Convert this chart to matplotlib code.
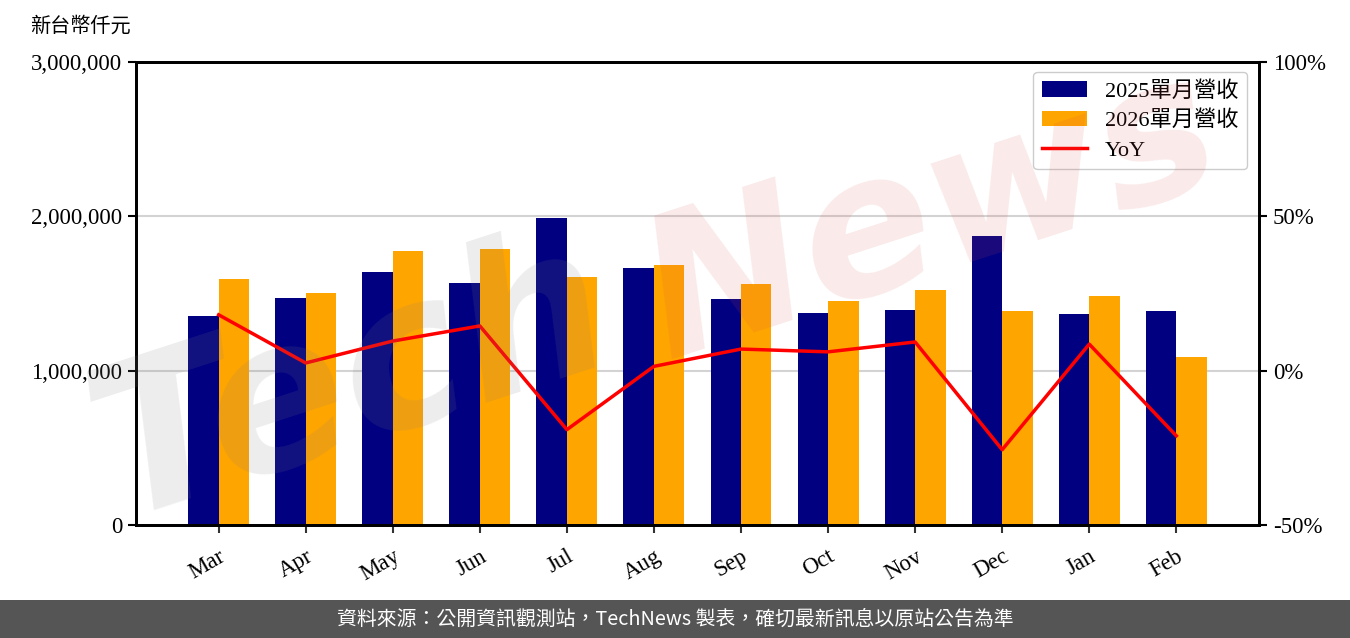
import matplotlib
matplotlib.use("Agg")
import matplotlib.pyplot as plt
import numpy as np
from matplotlib.ticker import FuncFormatter, FixedLocator
from matplotlib.patches import Rectangle

months = ["Mar", "Apr", "May", "Jun", "Jul", "Aug", "Sep", "Oct", "Nov", "Dec", "Jan", "Feb"]
rev_2025 = [1354000, 1471000, 1639000, 1568000, 1989000, 1665000,
            1464000, 1374000, 1393000, 1873000, 1367000, 1387000]
rev_2026 = [1594000, 1503000, 1775000, 1788000, 1607000, 1685000,
            1562000, 1451000, 1523000, 1387000, 1484000, 1089000]
yoy = [18.1, 2.5, 9.6, 14.5, -19.1, 1.4, 7.0, 6.1, 9.3, -25.6, 8.6, -21.1]

label_2025 = "2025單月營收"
label_2026 = "2026單月營收"
label_yoy = "YoY"
unit_label = "新台幣仟元"
footer = "資料來源：公開資訊觀測站，TechNews 製表，確切最新訊息以原站公告為準"

SERIF = ["Liberation Serif", "Noto Sans CJK TC"]
SANS = ["Noto Sans CJK TC", "DejaVu Sans"]

fig = plt.figure(figsize=(13.5, 6.38), dpi=100)
ax = fig.add_axes([0.1007, 0.1771, 0.8319, 0.7257])
ax2 = ax.twinx()

x = np.arange(len(months))
w = 0.35
b1 = ax.bar(x - w / 2, rev_2025, width=w, color="#000080", label=label_2025, zorder=2)
b2 = ax.bar(x + w / 2, rev_2026, width=w, color="#FFA500", label=label_2026, zorder=2)
ln, = ax2.plot(x, yoy, color="#FF0000", lw=2.5, label=label_yoy, zorder=3)

ax.set_xlim(-0.95, 11.95)
ax.set_ylim(0, 3000000)
ax2.set_ylim(-50, 100)
ax.yaxis.set_major_locator(FixedLocator([0, 1000000, 2000000, 3000000]))
ax2.yaxis.set_major_locator(FixedLocator([-50, 0, 50, 100]))
ax.yaxis.set_major_formatter(FuncFormatter(lambda v, p: f"{int(v):,}"))
ax2.yaxis.set_major_formatter(FuncFormatter(lambda v, p: f"{int(v)}%"))
ax.grid(axis="y", color="#d3d3d3", lw=1.5, zorder=0)
ax.set_axisbelow(True)

ax.set_xticks(x)
ax.set_xticklabels(months, rotation=30, ha="right", rotation_mode="anchor")
for lab in ax.get_xticklabels() + ax.get_yticklabels() + ax2.get_yticklabels():
    lab.set_fontfamily(SERIF)
    lab.set_fontsize(16.5)
ax.tick_params(axis="x", length=6, width=1.5, color="#333333", pad=9)
ax.tick_params(axis="y", length=6, width=1.5, pad=4)
ax2.tick_params(axis="y", length=6, width=1.5, pad=4)
for a in (ax, ax2):
    for s in a.spines.values():
        s.set_linewidth(2)
        s.set_color("black")

handles = [b1, b2, ln]
leg = ax2.legend(handles, [label_2025, label_2026, label_yoy], loc="upper right",
                 prop={"family": SERIF, "size": 16}, frameon=True, fancybox=True,
                 edgecolor="#cccccc", framealpha=1, borderpad=0.4, labelspacing=0.4,
                 handlelength=2.0, handletextpad=0.8, borderaxespad=0,
                 bbox_to_anchor=(0.9893, 0.9784))
leg.set_zorder(10)

fig.text(30 / 1350, 1 - 27 / 638, unit_label, fontfamily=SERIF, fontsize=14.5,
         va="center", ha="left")

# watermark
fig.text(0.26, 0.40, "Tech", fontsize=150, fontfamily="DejaVu Sans", fontstyle="italic",
         fontweight="bold", color=(0.5, 0.5, 0.5), alpha=0.14, rotation=18,
         ha="center", va="center", zorder=20)
fig.text(0.69, 0.66, "News", fontsize=140, fontfamily="DejaVu Sans", fontstyle="italic",
         fontweight="bold", color=(0.85, 0.3, 0.3), alpha=0.12, rotation=18,
         ha="center", va="center", zorder=20)

# footer
fig.patches.append(Rectangle((0, 0), 1, 38 / 638, transform=fig.transFigure,
                             facecolor="#555555", edgecolor="none", zorder=0))
fig.text(0.5, 19 / 638, footer, color="white", fontfamily=SANS, fontsize=14.3,
         ha="center", va="center")

fig.savefig("out.png", dpi=100)
